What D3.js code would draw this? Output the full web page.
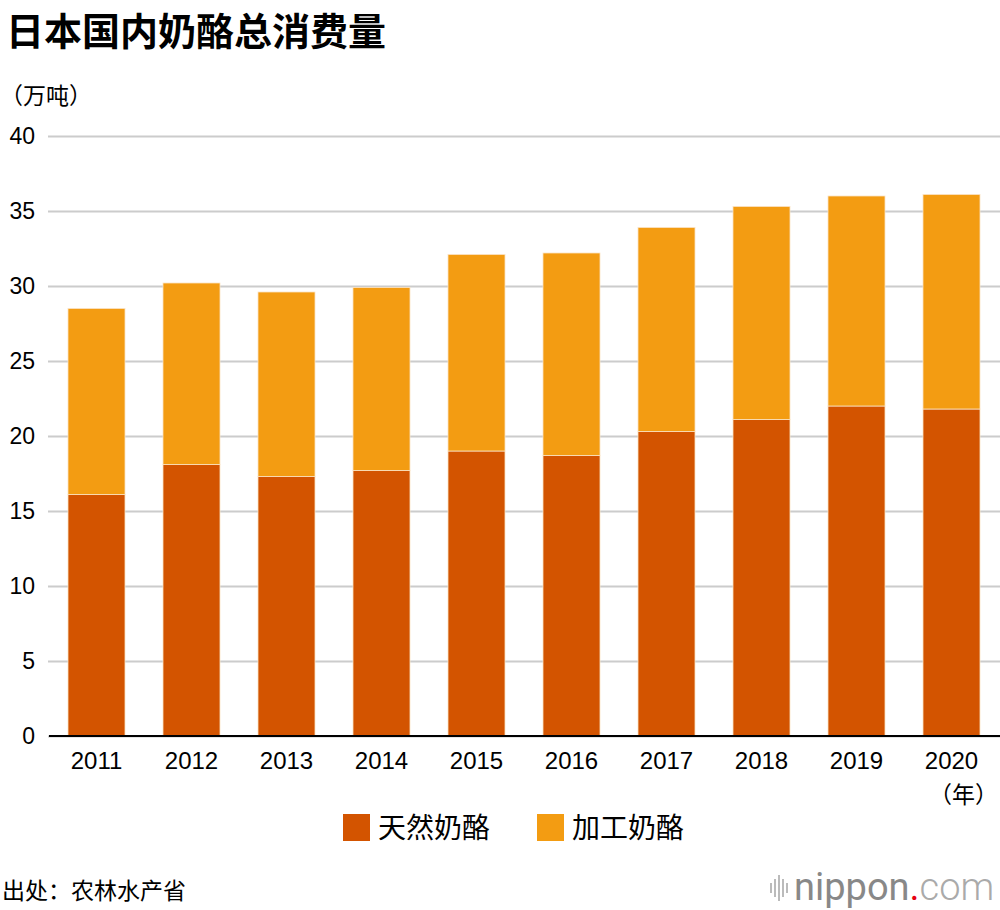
<!DOCTYPE html>
<html>
<head>
<meta charset="utf-8">
<script src="https://cdn.jsdelivr.net/npm/d3@7/dist/d3.min.js"></script>
<style>
  body { margin: 0; background: #fff; }
  svg text { font-family: "Liberation Sans", "Noto Sans CJK SC", sans-serif; }
</style>
</head>
<body>
<svg id="cheese-chart" width="1000" height="910"></svg>
<script>
const years = ['2011', '2012', '2013', '2014', '2015', '2016', '2017', '2018', '2019', '2020'];
const natural = [16.1, 18.1, 17.3, 17.7, 19.0, 18.7, 20.3, 21.1, 22.0, 21.8];
const processed = [12.4, 12.1, 12.3, 12.2, 13.1, 13.5, 13.6, 14.2, 14.0, 14.3];
const seriesNames = ['天然奶酪', '加工奶酪'];
const seriesColors = ['#d35400', '#f39c12'];
const yTicks = [0, 5, 10, 15, 20, 25, 30, 35, 40];

const svgElement = d3.select('svg#cheese-chart');
const cjk = '"Noto Sans CJK SC", sans-serif';

const x = d3.scaleBand().domain(years).range([49, 999]).paddingInner(0.4).paddingOuter(0.2);
const y = d3.scaleLinear().domain([0, 40]).range([736, 136]);

// title
svgElement.append('text')
  .attr('x', 6).attr('y', 45)
  .style('font-family', cjk)
  .style('font-weight', 'bold')
  .style('font-size', '38px')
  .text('日本国内奶酪总消费量');

svgElement.append('text')
  .attr('x', 0).attr('y', 104)
  .style('font-family', cjk)
  .style('font-size', '23px')
  .text('（万吨）');

// grid
const yAxis = d3.axisLeft(y).tickValues(yTicks).tickSize(-(1000 - 48)).tickPadding(13);
const gy = svgElement.append('g').attr('transform', 'translate(48,0)').call(yAxis);
gy.select('.domain').remove();
gy.selectAll('.tick line').attr('stroke', '#cccccc').attr('stroke-width', 2);
gy.selectAll('.tick text')
  .attr('x', -13)
  .style('font-size', '23px')
  .attr('fill', '#000');

// stacked bars
const rows = years.map((yr, i) => ({year: yr, natural: natural[i], processed: processed[i]}));
const stack = d3.stack().keys(['natural', 'processed'])(rows);

svgElement.append('g').selectAll('g')
  .data(stack)
  .enter().append('g')
  .attr('fill', (d, i) => seriesColors[i])
  .selectAll('rect')
  .data(d => d)
  .enter().append('rect')
  .attr('x', d => x(d.data.year))
  .attr('width', x.bandwidth())
  .attr('y', d => y(d[1]))
  .attr('height', d => y(d[0]) - y(d[1]))
  .attr('stroke', '#fbe3c4')
  .attr('stroke-width', 0.8);

// x axis
const xAxis = d3.axisBottom(x).tickSize(0).tickPadding(16);
const gx = svgElement.append('g').attr('transform', 'translate(0,736)').call(xAxis);
gx.select('.domain').attr('d', 'M49,0H1000').attr('stroke', '#000').attr('stroke-width', 2);
gx.selectAll('.tick text').style('font-size', '24px').attr('fill', '#000');

svgElement.append('text')
  .attr('x', 998).attr('y', 803)
  .attr('text-anchor', 'end')
  .style('font-family', cjk)
  .style('font-size', '23px')
  .text('（年）');

// legend
const legendX = [343, 537];
const legend = svgElement.append('g').selectAll('g')
  .data(seriesNames)
  .enter().append('g')
  .attr('transform', (d, i) => `translate(${legendX[i]},814)`);
legend.append('rect')
  .attr('width', 27).attr('height', 27)
  .attr('fill', (d, i) => seriesColors[i]);
legend.append('text')
  .attr('x', 35).attr('y', 24)
  .style('font-family', cjk)
  .style('font-size', '28px')
  .text(d => d);

// source
svgElement.append('text')
  .attr('x', 2).attr('y', 899)
  .style('font-family', cjk)
  .style('font-size', '23px')
  .text('出处：农林水产省');

// logo
const logo = svgElement.append('g').attr('transform', 'translate(770,868)');
[0, 4, 8, 12, 16].forEach((dx, i) => {
  const h = [10, 18, 26, 18, 10][i];
  logo.append('rect').attr('x', dx).attr('y', 20 - h / 2).attr('width', 2).attr('height', h).attr('fill', '#bbbbbb');
});
const logoText = logo.append('text').attr('x', 24).attr('y', 32)
  .style('font-family', '"Roboto", sans-serif')
  .style('font-size', '38px')
  .attr('fill', '#888888');
logoText.append('tspan').text('nippon');
logoText.append('tspan').attr('fill', '#e60012').text('.');
logoText.append('tspan').attr('fill', '#aaaaaa').style('font-weight', '300').text('com');
</script>
</body>
</html>
